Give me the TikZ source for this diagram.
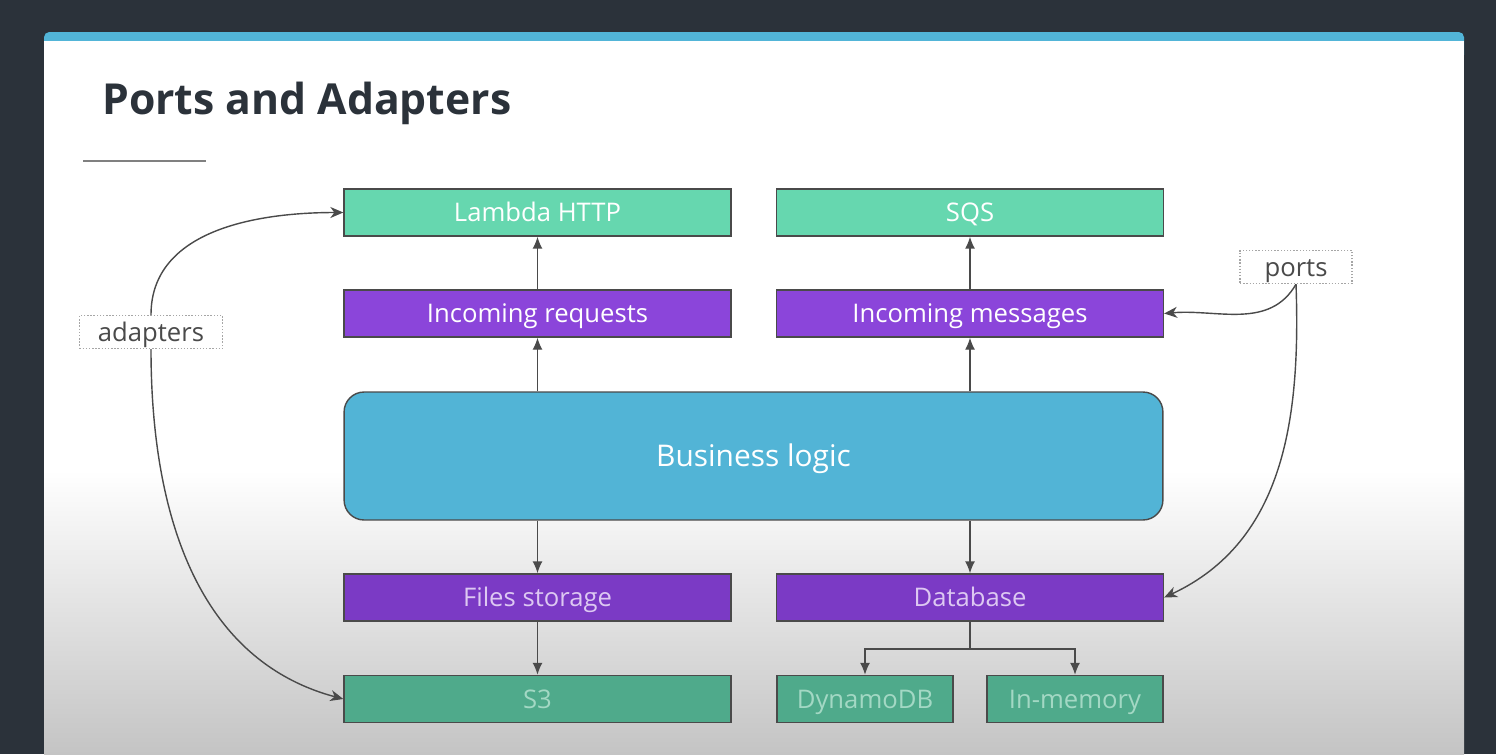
\documentclass[tikz,border=0pt]{standalone}
\usepackage{fontspec}
\setmainfont{Open Sans}
\usetikzlibrary{arrows.meta,positioning}
\definecolor{backdark}{HTML}{2B323A}
\definecolor{slidetop}{HTML}{52B5D8}
\definecolor{titleink}{HTML}{2B323A}
\definecolor{lineink}{HTML}{4A4A4A}
\definecolor{greentop}{HTML}{66D7AF}
\definecolor{greenlow}{HTML}{4FAA8B}
\definecolor{greentext}{HTML}{A3D8C4}
\definecolor{purpletop}{HTML}{8B45DA}
\definecolor{purplelow}{HTML}{7B3AC5}
\definecolor{purpletext}{HTML}{DDC8F2}
\definecolor{logicblue}{HTML}{52B4D6}
\definecolor{fadegray}{HTML}{C4C4C4}
\begin{document}
\begin{tikzpicture}
        [x=0.02cm,y=-0.02cm,
         box/.style={draw=lineink,line width=0.8pt,inner sep=0pt,minimum width=7.74cm,minimum height=0.94cm,text height=14.6pt,text depth=4.1pt,font=\fontsize{14.6}{17}\selectfont},
         smallbox/.style={box,minimum width=3.52cm},
         adapterbox/.style={fill=greentop,text=white},
         adapterlow/.style={fill=greenlow,text=greentext},
         portbox/.style={fill=purpletop,text=white},
         portlow/.style={fill=purplelow,text=purpletext},
         notebox/.style={draw=gray!70,densely dotted,line width=0.8pt,inner sep=0pt,minimum height=0.66cm,text height=14.6pt,text depth=4.1pt,text=lineink,font=\fontsize{14.6}{17}\selectfont},
         link/.style={draw=lineink,line width=0.8pt,-{Latex[length=2.4mm,width=2mm]}},
         curvelink/.style={draw=lineink,line width=0.8pt,-{Stealth[length=2.6mm,width=2.2mm,inset=0.8mm]}}]
        \useasboundingbox (0,0) rectangle (1496,754);
        \fill[backdark] (0,0) rectangle (1496,754);
        \fill[slidetop,rounded corners=3pt] (44,32) rectangle (1464,60);
        \fill[white] (44,41) rectangle (1464,470);
        \shade[top color=white,bottom color=fadegray] (44,470) rectangle (1464,754);
        \node[anchor=west,text=titleink,font=\fontsize{24.3}{28}\bfseries] (title) at (96,103) {Ports and Adapters};
        \draw[gray,line width=1.2pt] (83,161) -- (206,161);
        \node[box,adapterbox] (lambda) at (537.5,212.5) {Lambda HTTP};
        \node[box,adapterbox] (sqs) at (970,212.5) {SQS};
        \node[box,portbox] (requests) at (537.5,313.5) {Incoming requests};
        \node[box,portbox] (messages) at (970,313.5) {Incoming messages};
        \node[draw=lineink,line width=0.8pt,fill=logicblue,rounded corners=0.4cm,inner sep=0pt,minimum width=16.38cm,minimum height=2.56cm,text height=17pt,text depth=4.8pt,text=white,font=\fontsize{17}{20}\selectfont] (logic) at (753.5,456) {Business logic};
        \node[box,portlow] (files) at (537.5,597.5) {Files storage};
        \node[box,portlow] (database) at (970,597.5) {Database};
        \node[box,adapterlow] (s3) at (537.5,699) {S3};
        \node[smallbox,adapterlow] (dynamo) at (865,699) {DynamoDB};
        \node[smallbox,adapterlow] (memory) at (1075,699) {In-memory};
        \node[notebox,minimum width=2.86cm] (adapters) at (151,332) {adapters};
        \node[notebox,minimum width=2.24cm] (ports) at (1296,267) {ports};
        \coordinate (split) at (970,649);
        \draw[link] (requests) -- (lambda);
        \draw[link] (messages) -- (sqs);
        \draw[link] (logic.north -| requests) -- (requests);
        \draw[link] (logic.north -| messages) -- (messages);
        \draw[link] (logic.south -| files) -- (files);
        \draw[link] (logic.south -| database) -- (database);
        \draw[link] (files) -- (s3);
        \draw[draw=lineink,line width=0.8pt] (database) -- (split);
        \draw[link] (split) -| (dynamo);
        \draw[link] (split) -| (memory);
        \draw[curvelink] (adapters.north) to[out=90,in=180] (lambda.west);
        \draw[curvelink] (adapters.south) to[out=-90,in=165] (s3.west);
        \draw[curvelink] (ports.south) to[out=-120,in=5] (messages.east);
        \draw[curvelink] (ports.south) to[out=-88,in=25] (database.east);
\end{tikzpicture}
\end{document}
